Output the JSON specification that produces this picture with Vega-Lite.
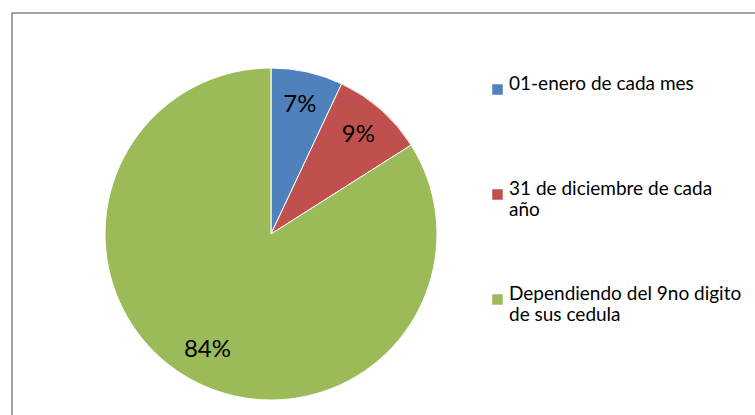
{
  "$schema": "https://vega.github.io/schema/vega-lite/v6.json",
  "width": 746,
  "height": 406,
  "padding": {"left": 12, "top": 13, "right": 0, "bottom": 0},
  "autosize": {"type": "none"},
  "background": "white",
  "view": {"stroke": "#868686", "strokeWidth": 1.5},
  "config": {
    "view": {"stroke": "#868686", "strokeWidth": 1.5},
    "font": "Lato"
  },
  "data": {
    "values": [
      {"categoria": "01-enero de cada mes", "porcentaje": 7, "etiqueta": "7%", "orden": 1},
      {"categoria": "31 de diciembre de cada año", "porcentaje": 9, "etiqueta": "9%", "orden": 2},
      {"categoria": "Dependiendo del 9no digito de sus cedula", "porcentaje": 84, "etiqueta": "84%", "orden": 3}
    ]
  },
  "encoding": {
    "theta": {"field": "porcentaje", "type": "quantitative", "stack": true},
    "order": {"field": "orden", "type": "quantitative"},
    "color": {
      "field": "categoria",
      "type": "nominal",
      "sort": ["01-enero de cada mes", "31 de diciembre de cada año", "Dependiendo del 9no digito de sus cedula"],
      "scale": {
        "domain": ["01-enero de cada mes", "31 de diciembre de cada año", "Dependiendo del 9no digito de sus cedula"],
        "range": ["#4F81BD", "#C0504D", "#9BBB59"]
      },
      "legend": {
        "title": null,
        "orient": "none",
        "legendX": 476,
        "legendY": 67,
        "symbolType": "square",
        "symbolSize": 110,
        "symbolStrokeWidth": 0,
        "symbolOpacity": 1,
        "labelFont": "Lato",
        "labelFontSize": 19,
        "labelColor": "#000000",
        "labelOffset": 2,
        "labelLimit": 300,
        "labelBaseline": "alphabetic",
        "rowPadding": 64,
        "labelExpr": "datum.label == '31 de diciembre de cada año' ? ['31 de diciembre de cada', 'año'] : datum.label == 'Dependiendo del 9no digito de sus cedula' ? ['Dependiendo del 9no digito', 'de sus cedula'] : [datum.label, '']",
        "encode": {
          "labels": {"lineHeight": {"value": 23}}
        }
      }
    }
  },
  "layer": [
    {
      "mark": {"type": "arc", "outerRadius": 166, "x": 259, "y": 221, "stroke": "white", "strokeWidth": 1}
    },
    {
      "mark": {"type": "text", "radius": 132, "x": 259, "y": 221, "fontSize": 24, "font": "Lato", "color": "#000000", "align": "center", "baseline": "middle"},
      "encoding": {
        "text": {"field": "etiqueta", "type": "nominal"},
        "color": {"value": "#000000"}
      }
    }
  ]
}
